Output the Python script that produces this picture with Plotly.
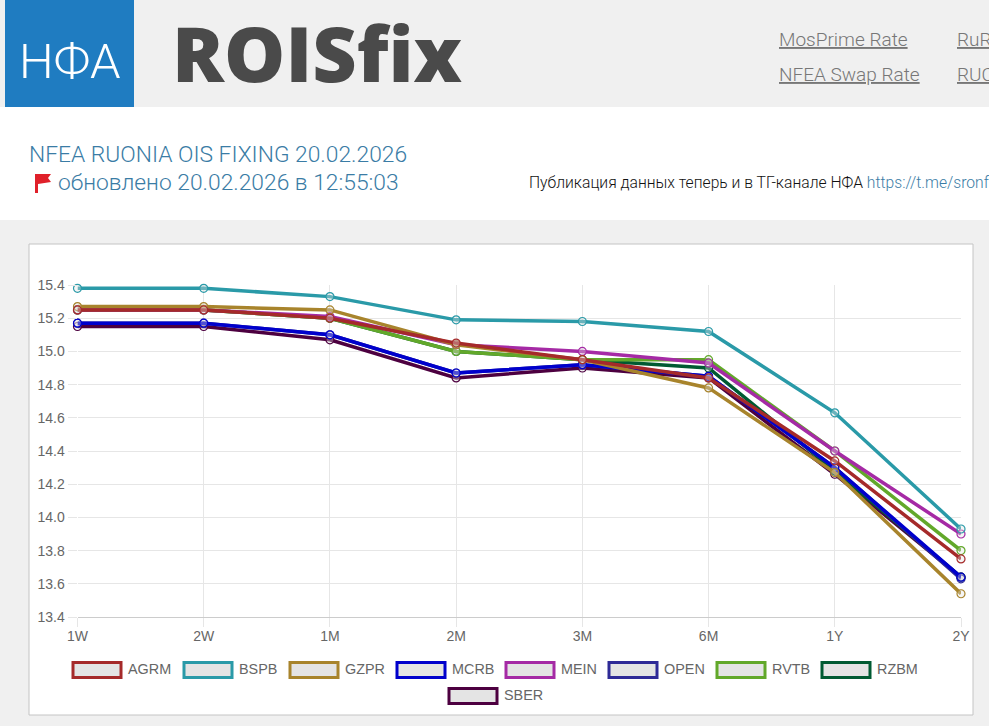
import plotly.graph_objects as go

W, H = 989, 726

tenors = ["1W", "2W", "1M", "2M", "3M", "6M", "1Y", "2Y"]
y_ticks = [13.4, 13.6, 13.8, 14.0, 14.2, 14.4, 14.6, 14.8, 15.0, 15.2, 15.4]

AGRM = [15.25, 15.25, 15.20, 15.05, 14.95, 14.84, 14.34, 13.75]
BSPB = [15.38, 15.38, 15.33, 15.19, 15.18, 15.12, 14.63, 13.93]
GZPR = [15.27, 15.27, 15.25, 15.04, 14.95, 14.78, 14.27, 13.54]
MCRB = [15.17, 15.17, 15.10, 14.87, 14.92, 14.85, 14.30, 13.64]
MEIN = [15.25, 15.25, 15.21, 15.04, 15.00, 14.93, 14.40, 13.90]
OPEN = [15.17, 15.17, 15.10, 14.87, 14.92, 14.85, 14.30, 13.63]
RVTB = [15.25, 15.25, 15.20, 15.00, 14.95, 14.95, 14.40, 13.80]
RZBM = [15.25, 15.25, 15.20, 15.00, 14.95, 14.90, 14.28, 13.64]
SBER = [15.15, 15.15, 15.07, 14.84, 14.90, 14.84, 14.26, 13.64]

names = ["AGRM", "BSPB", "GZPR", "MCRB", "MEIN", "OPEN", "RVTB", "RZBM", "SBER"]
values = [AGRM, BSPB, GZPR, MCRB, MEIN, OPEN, RVTB, RZBM, SBER]
colors = ["#a52a2a", "#2a9aa8", "#a8842c", "#0000cc", "#a52aa5",
          "#2e2a96", "#62a82a", "#005a32", "#4d0040"]

# left edge of each legend swatch and its row centre, in page pixels
legend_x = [71, 182, 288, 395, 504, 607, 715, 820, 447]
legend_y = [670, 670, 670, 670, 670, 670, 670, 670, 696]


def fx(x):
    return x / W


def fy(y):
    return 1 - y / H


def rect(x0, y0, x1, y1, fill, line=None, lw=0):
    return dict(type="rect", xref="paper", yref="paper", layer="below",
                x0=fx(x0), x1=fx(x1), y0=fy(y0), y1=fy(y1), fillcolor=fill,
                line=dict(color=line or fill, width=lw))


def text(x, y, s, size, color, family="Roboto", anchor="left", weight=None):
    return dict(xref="paper", yref="paper", x=fx(x), y=fy(y), text=s, showarrow=False,
                xanchor=anchor, yanchor="middle", align=anchor,
                font=dict(size=size, color=color, family=family, weight=weight))


fig = go.Figure()

# chart.js paints the first dataset on top, so go backwards
for i in reversed(range(len(names))):
    fig.add_trace(go.Scatter(
        x=tenors, y=values[i], name=names[i], mode="lines+markers", cliponaxis=False,
        line=dict(color=colors[i], width=3.5),
        marker=dict(symbol="circle", size=8, color="rgba(225,225,225,0.35)",
                    line=dict(color=colors[i], width=1.2)),
    ))

shapes = [
    rect(0, 0, W, 107, "#f0f0f0"),
    rect(5, 0, 134, 107, "#1f7cc1"),
    rect(0, 220, W, H, "#f0f0f0"),
    rect(29, 244, 973, 715, "#ffffff", "#c4c4c4", 1),
    # flag
    dict(type="path", xref="paper", yref="paper", fillcolor="#e0202a", line=dict(width=0),
         path=f"M {fx(35)} {fy(193)} L {fx(35)} {fy(174)} L {fx(51)} {fy(174)} L {fx(48)} {fy(178)} "
              f"L {fx(51)} {fy(182)} L {fx(38)} {fy(184)} L {fx(38)} {fy(193)} Z"),
]

light = "Roboto Light, Roboto"
annotations = [
    text(70, 61, "НФА", 49, "#ffffff", light, "center"),
    text(170, 52, "ROISfix", 77, "#4a4a4a", "Open Sans", weight=800),
    text(777, 39.5, "<u>MosPrime Rate</u>", 19, "#777777", light),
    text(955, 39.5, "<u>RuR</u>", 19, "#777777", light),
    text(777, 74, "<u>NFEA Swap Rate</u>", 19, "#777777", light),
    text(955, 74, "<u>RUC</u>", 19, "#777777", light),
    text(27, 154, "NFEA RUONIA OIS FIXING 20.02.2026", 22.8, "#3a7ca5", light),
    text(56, 183, "обновлено 20.02.2026 в 12:55:03", 22.8, "#3a7ca5", light),
    text(527, 183, "Публикация данных теперь и в ТГ-канале НФА "
                   "<span style='color:#3a7ca5'>https://t.me/sronf</span>", 15.7, "#111111", light),
]

for name, color, lx, ly in zip(names, colors, legend_x, legend_y):
    shapes.append(rect(lx + 2, ly - 7.5, lx + 50, ly + 7.5, "#e4e4e4", color, 3))
    annotations.append(text(lx + 55, ly - 1, name, 14.4, "#666666", "Liberation Sans"))

axis_font = dict(family="Liberation Sans", size=14, color="#666666")

fig.update_layout(
    template="none",
    width=W, height=H, autosize=False, margin=dict(l=0, r=0, t=0, b=0, pad=0, autoexpand=False),
    paper_bgcolor="#ffffff", plot_bgcolor="rgba(0,0,0,0)", showlegend=False,
    shapes=shapes, annotations=annotations,
    xaxis=dict(domain=[fx(77.5), fx(961)], type="category", range=[0, len(tenors) - 1],
               automargin=False, tickvals=tenors, ticktext=tenors, tickfont=axis_font,
               ticklabelstandoff=-3,
               showgrid=True, gridcolor="#e6e6e6", gridwidth=1, zeroline=False,
               showline=True, linecolor="#cccccc", linewidth=1,
               ticks="outside", ticklen=9, tickcolor="#e6e6e6"),
    yaxis=dict(domain=[fy(617), fy(285)], range=[13.4, 15.4],
               automargin=False, tickvals=y_ticks, tickformat=".1f", tickfont=axis_font,
               showgrid=True, gridcolor="#e6e6e6", gridwidth=1, zeroline=False,
               showline=False, ticks="outside", ticklen=9, tickcolor="#e6e6e6"),
)

fig.write_html("out.html", config=dict(displayModeBar=False),
               post_script="document.body.style.margin='0';document.documentElement.style.overflow='hidden';")
